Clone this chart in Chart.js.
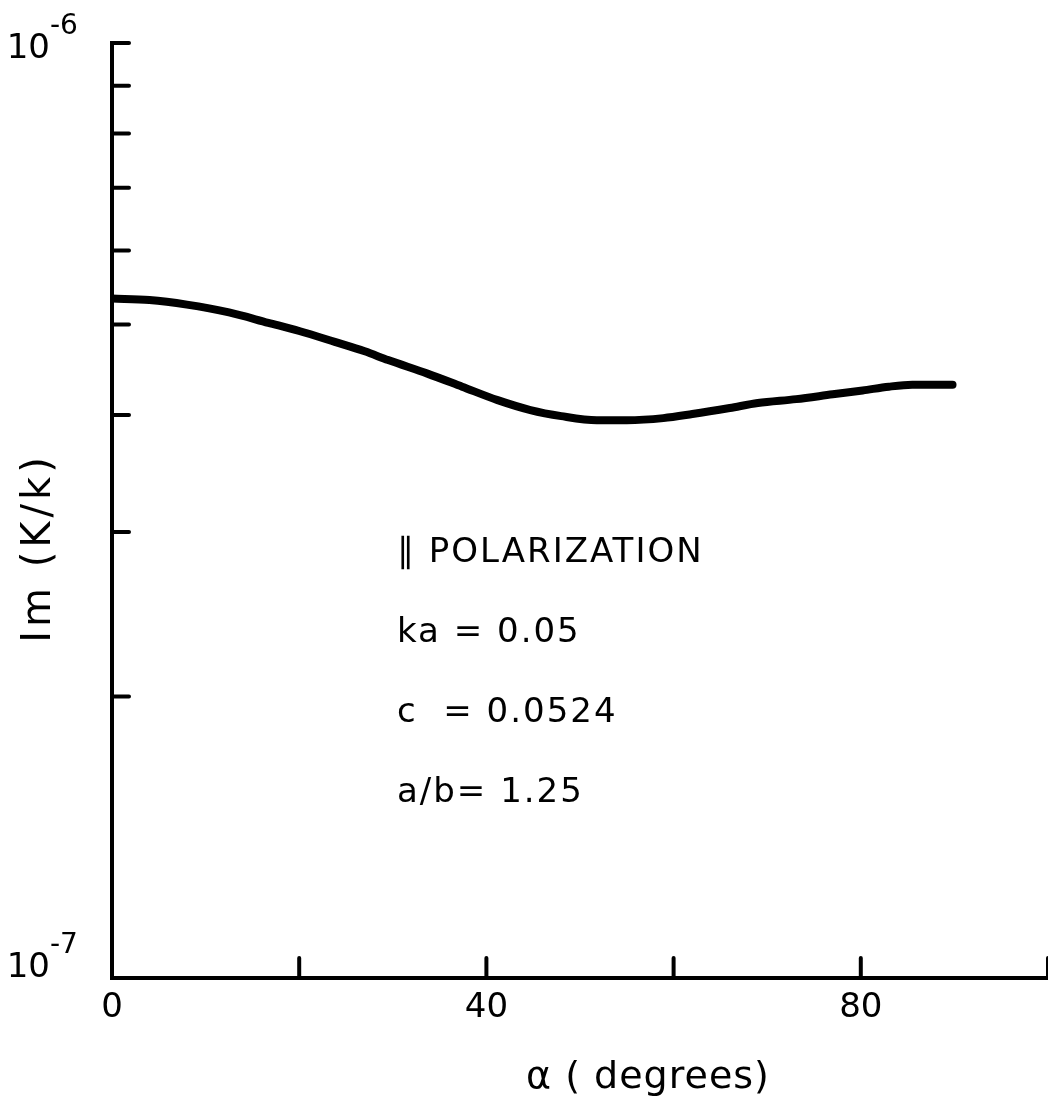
<!DOCTYPE html>
<html lang="en">

<head>
  <meta charset="utf-8">
  <title>Im (K/k) vs alpha</title>
  <script src="https://cdn.jsdelivr.net/npm/chart.js@4.4.0/dist/chart.umd.min.js"></script>
  <style>
    body { margin: 0; background: #fff; }
  </style>
</head>

<body>
  <canvas id="myChart" width="1048" height="1101"></canvas>

  <script>
    // values
    const alpha = [0, 4, 8, 12.5, 16.7, 20, 23.8, 27, 29.5, 33.7, 37.4, 41.2, 44.7, 48, 51.8, 55, 58.9, 62, 66, 69, 73.1, 77, 80.2, 83, 85.5, 89.8];
    const imK = [5.33e-7, 5.31e-7, 5.25e-7, 5.15e-7, 5.02e-7, 4.92e-7, 4.79e-7, 4.68e-7, 4.58e-7, 4.43e-7, 4.29e-7, 4.15e-7, 4.05e-7, 3.99e-7, 3.95e-7, 3.95e-7, 3.97e-7, 4.01e-7, 4.07e-7, 4.12e-7, 4.16e-7, 4.21e-7, 4.25e-7, 4.29e-7, 4.31e-7, 4.31e-7];

    const xTicks = [20, 40, 60, 80, 100];
    const xLabels = [0, 40, 80];
    const yTicks = [2e-7, 3e-7, 4e-7, 5e-7, 6e-7, 7e-7, 8e-7, 9e-7, 1e-6];
    const yLabels = [{ value: 1e-6, exp: '-6' }, { value: 1e-7, exp: '-7' }];
    const notes = ['\u2225 POLARIZATION', 'ka = 0.05', 'c  = 0.0524', 'a/b= 1.25'];
    const xTitle = '\u03b1 ( degrees)';
    const yTitle = 'Im (K/k)';

    const FONT = "'DejaVu Sans', sans-serif";

    // inward ticks, power-of-ten labels, titles and the text block
    const decor = {
      id: 'decor',
      afterDraw(chart) {
        const ctx = chart.ctx;
        const xs = chart.scales.x;
        const ys = chart.scales.y;
        const area = chart.chartArea;
        ctx.save();
        ctx.strokeStyle = '#000';
        ctx.lineWidth = 4;
        ctx.lineCap = 'round';
        yTicks.forEach(v => {
          const py = ys.getPixelForValue(v);
          ctx.beginPath();
          ctx.moveTo(area.left, py);
          ctx.lineTo(area.left + 17, py);
          ctx.stroke();
        });
        xTicks.forEach(v => {
          const px = xs.getPixelForValue(v);
          ctx.beginPath();
          ctx.moveTo(px, area.bottom);
          ctx.lineTo(px, area.bottom - 20);
          ctx.stroke();
        });

        ctx.fillStyle = '#000';
        yLabels.forEach(l => {
          const py = ys.getPixelForValue(l.value) + (l.value === ys.max ? 6 : -10);
          ctx.font = '34px ' + FONT;
          ctx.textAlign = 'right';
          ctx.textBaseline = 'middle';
          ctx.fillText('10', 50, py);
          ctx.font = '28px ' + FONT;
          ctx.textAlign = 'left';
          ctx.fillText(l.exp, 50, py - 22);
        });

        // axis titles
        ctx.textAlign = 'center';
        ctx.textBaseline = 'middle';
        ctx.font = '38px ' + FONT;
        ctx.letterSpacing = '1px';
        ctx.fillText(xTitle, 648, 1078);
        ctx.save();
        ctx.translate(40, 548);
        ctx.rotate(-Math.PI / 2);
        ctx.font = '40px ' + FONT;
        ctx.letterSpacing = '4px';
        ctx.fillText(yTitle, 0, 0);
        ctx.restore();

        ctx.font = '34px ' + FONT;
        ctx.letterSpacing = '2px';
        ctx.textAlign = 'left';
        ctx.textBaseline = 'middle';
        notes.forEach((t, i) => {
          ctx.fillText(t, 397, 553 + i * 80);
        });
        ctx.restore();
      }
    };

    const data = {
      datasets: [{
        label: 'Im (K/k)',
        data: alpha.map((a, i) => ({ x: a, y: imK[i] })),
        borderColor: '#000',
        borderWidth: 8,
        borderCapStyle: 'round',
        pointRadius: 0,
        cubicInterpolationMode: 'monotone',
        fill: false
      }]
    };

    const config = {
      type: 'line',
      data: data,
      plugins: [decor],
      options: {
        responsive: false,
        animation: false,
        layout: {
          padding: { top: 43, right: 0, bottom: 0, left: 0 }
        },
        scales: {
          x: {
            type: 'linear',
            min: 0,
            max: 100,
            afterFit: s => { s.height = 123; },
            border: { display: true, color: '#000', width: 4 },
            grid: { display: false, drawTicks: false },
            afterBuildTicks: s => { s.ticks = xLabels.map(v => ({ value: v })); },
            ticks: {
              color: '#000',
              padding: 10,
              font: { family: FONT, size: 34 },
              maxRotation: 0
            }
          },
          y: {
            type: 'logarithmic',
            min: 1e-7,
            max: 1e-6,
            afterFit: s => { s.width = 112; },
            border: { display: true, color: '#000', width: 4 },
            grid: { display: false, drawTicks: false },
            ticks: { display: false }
          }
        },
        plugins: {
          legend: { display: false },
          tooltip: { enabled: false }
        }
      }
    };

    const myChart = new Chart(document.getElementById('myChart'), config);
  </script>

</body>

</html>
